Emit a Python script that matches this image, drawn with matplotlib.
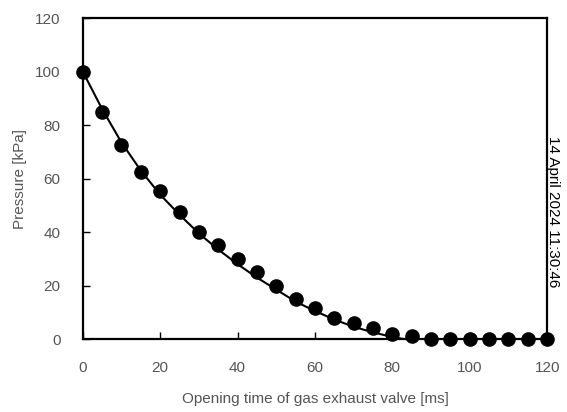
import matplotlib.pyplot as plt

plt.rcParams['font.family'] = ['Liberation Sans', 'DejaVu Sans']

# measured points
time_ms = [0, 5, 10, 15, 20, 25, 30, 35, 40, 45, 50, 55, 60,
           65, 70, 75, 80, 85, 90, 95, 100, 105, 110, 115, 120]
pressure = [100, 85, 72.5, 62.4, 55.3, 47.5, 40, 35, 30, 25, 20, 15, 11.6,
            8, 6, 4, 2, 1, 0, 0, 0, 0, 0, 0, 0]

# fitted curve
curve_t = [0, 5, 10, 15, 20, 25, 30, 35, 40, 45, 50, 55, 60,
           65, 70, 75, 80, 83, 90, 100, 110, 120]
curve_p = [100, 86, 73.5, 63, 54, 46.5, 39.5, 33.5, 28, 23, 18.5, 14, 10.5,
           7.3, 4.6, 2.5, 0.8, 0, 0, 0, 0, 0]

fig = plt.figure(figsize=(5.67, 4.12), dpi=100)
ax = fig.add_axes([0.146, 0.177, 0.819, 0.779])

ax.plot(curve_t, curve_p, color='black', linewidth=1.5, zorder=2)
ax.plot(time_ms, pressure, 'o', color='black', markersize=9.5, clip_on=False, zorder=3)

ax.set_xlim(0, 120)
ax.set_ylim(0, 120)
ax.set_xticks(range(0, 121, 20))
ax.set_yticks(range(0, 121, 20))
ax.tick_params(direction='in', length=5, width=1, colors='black', labelcolor='#555555',
               labelsize=11)
ax.tick_params(axis='x', pad=16)
ax.tick_params(axis='y', pad=16)
for s in ax.spines.values():
    s.set_linewidth(1.6)

ax.set_xlabel('Opening time of gas exhaust valve [ms]', color='#555555', fontsize=11, labelpad=12)
ax.set_ylabel('Pressure [kPa]', color='#555555', fontsize=11, labelpad=6)

fig.text(0.975, 0.485, '14 April 2024 11:30:46', rotation=270, fontsize=11,
         ha='center', va='center', color='black')

fig.savefig('out.png', dpi=100)
